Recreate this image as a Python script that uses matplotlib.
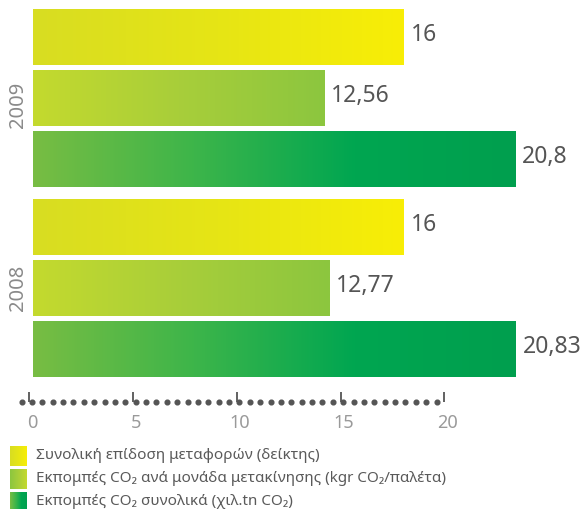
import numpy as np
import matplotlib
matplotlib.use("Agg")
import matplotlib.pyplot as plt
from matplotlib.colors import LinearSegmentedColormap

plt.rcParams["font.family"] = ["Noto Sans", "DejaVu Sans"]

# ── δεδομένα ──────────────────────────────────────────────
years = ["2009", "2008"]
series_names = [
    "Συνολική επίδοση μεταφορών (δείκτης)",
    "Εκπομπές CO₂ ανά μονάδα μετακίνησης (kgr CO₂/παλέτα)",
    "Εκπομπές CO₂ συνολικά (χιλ.tn CO₂)",
]
values_2009 = [16, 12.56, 20.8]
values_2008 = [16, 12.77, 20.83]
axis_ticks = [0, 5, 10, 15, 20]

# χρώματα διαβάθμισης (αριστερά -> δεξιά)
grad_colors = [
    ["#d8dd22", "#e6e515", "#f8ee06"],
    ["#c4da2e", "#a8ce3a", "#8cc63f"],
    ["#78bd43", "#3db54a", "#00a651", "#009f4e"],
]
cmaps = [LinearSegmentedColormap.from_list(f"g{i}", c) for i, c in enumerate(grad_colors)]
grad = np.linspace(0, 1, 256).reshape(1, -1)

W, H = 584, 509
fig = plt.figure(figsize=(W / 100, H / 100), dpi=100)


def px_axes(x0, y0, x1, y1):
    """axes από συντεταγμένες pixel (πάνω-αριστερά αρχή)"""
    return fig.add_axes([x0 / W, 1 - y1 / H, (x1 - x0) / W, (y1 - y0) / H])


# ── κύριο διάγραμμα ράβδων ────────────────────────────────
ax = px_axes(33, 0, 584, 390)
px_unit = 23.18          # pixel ανά μονάδα τιμής
row_px = 61.0            # pixel ανά θέση ράβδου
ax.set_xlim(0, 551 / px_unit)
ax.set_ylim((390 - 37) / row_px, -37 / row_px)
ax.axis("off")

group_gap = 0.12
bar_h = 56 / row_px
for g, (year, vals) in enumerate(zip(years, [values_2009, values_2008])):
    base = g * (len(vals) + group_gap)
    ypos = base + np.arange(len(vals))
    bars = ax.barh(ypos, vals, height=bar_h, color="none", edgecolor="none")
    for i, (bar, v) in enumerate(zip(bars, vals)):
        y0 = bar.get_y()
        im = ax.imshow(grad, cmap=cmaps[i], aspect="auto",
                       extent=[0, v, y0 + bar_h, y0], interpolation="bilinear")
        im.set_clip_path(bar)
        ax.annotate(f"{v:g}".replace(".", ","), (v, ypos[i] - 0.03),
                    xytext=(5, 0), textcoords="offset points",
                    ha="left", va="center", fontsize=16.5, color="#555555")
    ax.text(-15 / px_unit, ypos[1] + (0.12 if g == 0 else 0), year,
            rotation=90, ha="center", va="center",
            fontsize=14.5, color="#8a8a8a", clip_on=False)

# ── διακοσμητικός άξονας με τελείες ───────────────────────
sx = px_axes(29.3, 385, 444.3, 435)
sx.set_xlim(0, 20)
sx.set_ylim(50, 0)
sx.axis("off")
dots = np.arange(-0.37, 19.9, 0.5)
sx.plot(dots, np.full_like(dots, 17), "o", ms=3.4, color="#555555",
        clip_on=False)
sx.vlines(axis_ticks, 7, 17, color="#555555", lw=1.3, clip_on=False)
for t in axis_ticks:
    sx.text(t + 0.15, 38.5, str(t), ha="center", va="center",
            fontsize=13, color="#9a9a9a", clip_on=False)

# ── υπόμνημα ─────────────────────────────────────────────
lg = px_axes(0, 440, W, H)
lg.set_xlim(0, W)
lg.set_ylim(H - 440, 0)
lg.axis("off")
for i, name in enumerate(series_names):
    top = 6 + i * 23
    g = grad if i != 1 else grad[:, ::-1]
    lg.imshow(g, cmap=cmaps[i], aspect="auto",
              extent=[10, 27, top + 20, top], interpolation="bilinear")
    lg.text(36, top + 9.5, name, ha="left", va="center",
            fontsize=11, color="#5a5a5a")
lg.set_xlim(0, W)
lg.set_ylim(H - 440, 0)

fig.savefig("out.png", dpi=100)
